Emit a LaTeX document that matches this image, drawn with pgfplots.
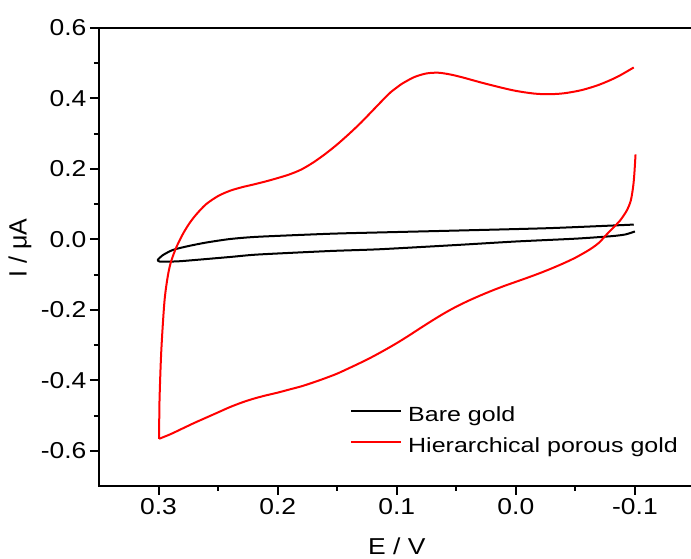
\documentclass[border=0pt]{standalone}
\usepackage{fontspec}
\setmainfont{Liberation Sans}
\newfontfamily\wide[FakeStretch=1.15]{Liberation Sans}
\newfontfamily\wider[FakeStretch=1.22]{Liberation Sans}
\usepackage{pgfplots}
\pgfplotsset{compat=1.18}
\begin{document}
\begin{tikzpicture}
\begin{axis}[name=ax,
  scale only axis, width=595.5pt, height=458pt,
  x dir=reverse, xmin=-0.15, xmax=0.35, ymin=-0.7, ymax=0.6,
  xtick={-0.1,0,0.1,0.2,0.3}, ytick={-0.6,-0.4,-0.2,0,0.2,0.4,0.6},
  minor x tick num=1, minor y tick num=1,
  tick align=outside, tick pos=left,
  major tick length=9pt, minor tick length=5pt,
  every tick/.style={line width=2pt, black},
  axis line style={line width=2.5pt},
  /pgf/number format/fixed, /pgf/number format/fixed zerofill,
  /pgf/number format/precision=1, /pgf/number format/assume math mode=true,
  xticklabel style={font=\wide\fontsize{23}{27}\selectfont},
  yticklabel style={font=\wide\fontsize{23}{27}\selectfont},
  xlabel={E / V}, ylabel={I / μA},
  xlabel style={font=\wide\fontsize{23}{27}\selectfont, at={(axis description cs:0.5,0)}, anchor=center, yshift=-60pt},
  ylabel style={font=\fontsize{25}{30}\selectfont, at={(axis description cs:-0.1327,0.52)}, anchor=center},
  legend style={at={(axis description cs:0.4215,0.174)}, anchor=north west, draw=none, fill=none, inner sep=0pt,
    font=\wider\fontsize{20.5}{24}\selectfont, row sep=10.7pt, /tikz/column sep=6pt,
    nodes={inner sep=0pt, text height=15pt, text depth=5pt}},
  legend cell align=left,
  legend image code/.code={\draw[#1] (0pt,5.6pt) -- (50pt,5.6pt);},
]
\addplot[black, line width=2pt, line join=round, smooth, tension=0.4] coordinates {
(-0.099,0.042) (-0.029,0.032) (0.05,0.025) (0.1143,0.0197) (0.156,0.016) (0.2166,0.0074) (0.24,0.001) (0.26,-0.009) (0.275,-0.019) (0.288,-0.030) (0.2965,-0.045) (0.3006,-0.058) (0.299,-0.063) (0.29,-0.063) (0.28,-0.0615) (0.24,-0.05) (0.2166,-0.043) (0.156,-0.033) (0.1143,-0.028) (0.05,-0.016) (0,-0.006) (-0.05,0.002) (-0.08,0.009) (-0.092,0.014) (-0.1,0.0225)
};
\addlegendentry{Bare gold}
\addplot[red, line width=2pt, line join=round, smooth, tension=0.5] coordinates {
(-0.099,0.488) (-0.085,0.461) (-0.07,0.439) (-0.055,0.4235) (-0.04,0.4145) (-0.027,0.412) (-0.015,0.414) (0,0.4215) (0.015,0.433) (0.03,0.446) (0.045,0.460) (0.055,0.468) (0.065,0.473) (0.075,0.471) (0.085,0.461) (0.095,0.443) (0.1,0.431) (0.105,0.418) (0.11,0.4015) (0.12,0.3665) (0.13,0.3315) (0.14,0.2995) (0.15,0.2695) (0.16,0.2425) (0.17,0.2185) (0.18,0.1985) (0.19,0.1845) (0.2,0.174) (0.21,0.1645) (0.22,0.156) (0.23,0.148) (0.24,0.138) (0.25,0.123) (0.26,0.1) (0.268,0.072) (0.274,0.046) (0.2796,0.015) (0.285,-0.022) (0.2893,-0.061) (0.292,-0.1) (0.295,-0.175) (0.2977,-0.317) (0.2992,-0.46) (0.2995,-0.566)
};
\addlegendentry{Hierarchical porous gold}
\addplot[red, line width=2pt, line join=round, smooth, tension=0.5, forget plot] coordinates {
(0.2995,-0.566) (0.29,-0.553) (0.28,-0.537) (0.27,-0.521) (0.26,-0.506) (0.25,-0.491) (0.24,-0.476) (0.23,-0.463) (0.22,-0.452) (0.21,-0.443) (0.20,-0.435) (0.19,-0.426) (0.18,-0.417) (0.17,-0.406) (0.16,-0.394) (0.15,-0.381) (0.14,-0.3655) (0.13,-0.3495) (0.12,-0.3325) (0.11,-0.314) (0.10,-0.2945) (0.09,-0.2735) (0.08,-0.2515) (0.07,-0.23) (0.06,-0.2095) (0.05,-0.191) (0.04,-0.1745) (0.03,-0.1595) (0.02,-0.1455) (0.01,-0.1325) (0,-0.1205) (-0.01,-0.1085) (-0.02,-0.096) (-0.03,-0.0825) (-0.04,-0.068) (-0.05,-0.052) (-0.06,-0.033) (-0.065,-0.022) (-0.07,-0.009) (-0.076,0.013) (-0.082,0.034) (-0.0874,0.053) (-0.093,0.081) (-0.0965,0.11) (-0.0985,0.15) (-0.0995,0.186) (-0.1005,0.241)
};
\end{axis}
\pgfresetboundingbox
\path[use as bounding box] (ax.south west) ++(-99pt,-73pt) rectangle ++(691pt,559pt);
\end{tikzpicture}
\end{document}
